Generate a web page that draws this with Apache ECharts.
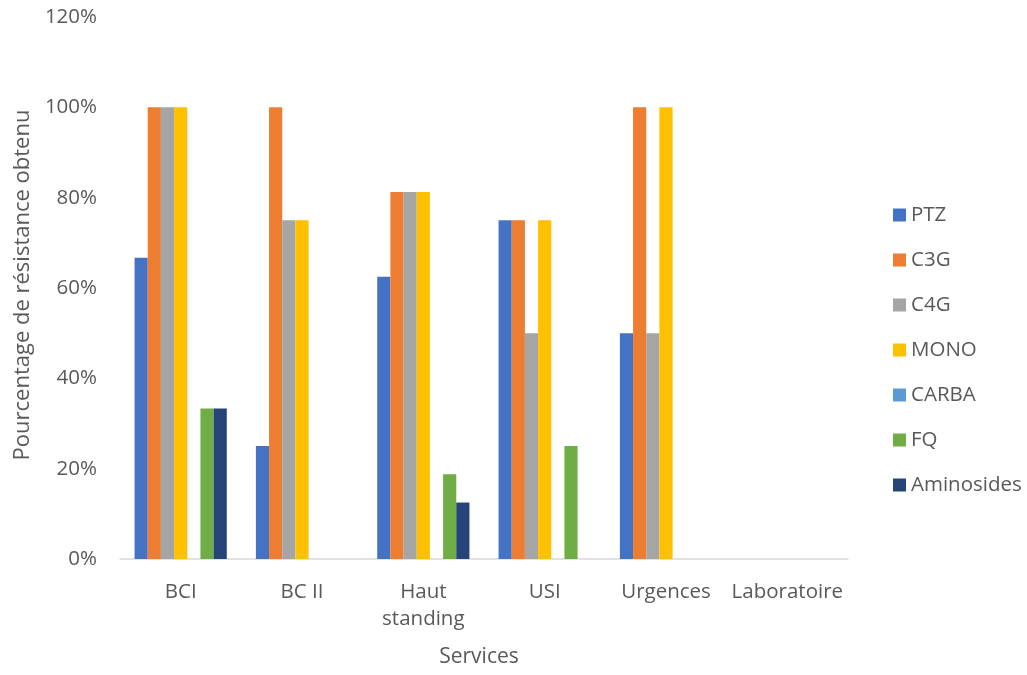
<!DOCTYPE html>
<html>
<head>
<meta charset="utf-8">
<script src="https://cdn.jsdelivr.net/npm/echarts@6/dist/echarts.min.js"></script>
<style>
  html, body { margin: 0; padding: 0; background: #fff; }
  #chart { width: 1027px; height: 675px; }
</style>
</head>
<body>
<div id="chart"></div>
<script>
// Services (categories on the x axis)
const services = ['BCI', 'BC II', 'Haut\nstanding', 'USI', 'Urgences', 'Laboratoire'];

// Resistance rates per antibiotic family (%)
const ptz        = [66.67, 25, 62.5, 75, 50, 0];
const c3g        = [100, 100, 81.25, 75, 100, 0];
const c4g        = [100, 75, 81.25, 50, 50, 0];
const mono       = [100, 75, 81.25, 75, 100, 0];
const carba      = [0, 0, 0, 0, 0, 0];
const fq         = [33.33, 0, 18.75, 25, 0, 0];
const aminosides = [33.33, 0, 12.5, 0, 0, 0];

const seriesNames = ['PTZ', 'C3G', 'C4G', 'MONO', 'CARBA', 'FQ', 'Aminosides'];
const seriesData = [ptz, c3g, c4g, mono, carba, fq, aminosides];
const colors = ['#4472C4', '#ED7D31', '#A5A5A5', '#FFC000', '#5B9BD5', '#70AD47', '#264478'];

// Y axis ticks
const yMin = 0, yMax = 120, yStep = 20;

const font = '"Open Sans", "Liberation Sans", sans-serif';
const textColor = '#595959';
const fs = 20.5;

const chart = echarts.init(document.getElementById('chart'), null, { renderer: 'canvas' });

chart.setOption({
  animation: false,
  color: colors,
  textStyle: { fontFamily: font },
  grid: { left: 120, right: 179, top: 17, bottom: 116, containLabel: false },
  legend: {
    orient: 'vertical',
    left: 888,
    top: 198,
    itemWidth: 13,
    itemHeight: 13,
    itemGap: 21,
    icon: 'rect',
    data: seriesNames,
    textStyle: { fontFamily: font, fontSize: fs, color: textColor, lineHeight: 24 }
  },
  xAxis: {
    type: 'category',
    data: services,
    name: 'Services',
    nameLocation: 'middle',
    nameGap: 88,
    nameTextStyle: { fontFamily: font, fontSize: 21, color: textColor, padding: [0, 10, 0, 0] },
    axisLine: { show: true, lineStyle: { color: '#D9D9D9', width: 1.5 } },
    axisTick: { show: false },
    axisLabel: {
      fontFamily: font, fontSize: fs, color: textColor, margin: 20,
      lineHeight: 27, interval: 0
    },
    splitLine: { show: false }
  },
  yAxis: {
    type: 'value',
    min: yMin,
    max: yMax,
    interval: yStep,
    name: 'Pourcentage de résistance obtenu',
    nameLocation: 'middle',
    nameGap: 84,
    nameRotate: 90,
    nameTextStyle: { fontFamily: font, fontSize: 22, color: textColor, padding: [0, 0, 0, 6] },
    axisLine: { show: false },
    axisTick: { show: false },
    splitLine: { show: false },
    axisLabel: {
      fontFamily: font, fontSize: fs, color: textColor, margin: 23,
      formatter: v => v + '%'
    }
  },
  series: seriesNames.map((name, i) => ({
    name,
    type: 'bar',
    data: seriesData[i],
    barGap: '0%',
    barCategoryGap: '24%',
    itemStyle: { color: colors[i] }
  }))
});
</script>
</body>
</html>
